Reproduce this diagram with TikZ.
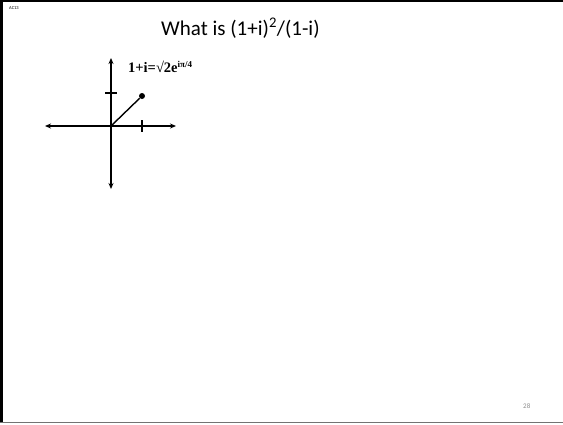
\documentclass[tikz,border=0pt]{standalone}
\usepackage{fontspec}
\setmainfont{Carlito}
\newfontfamily\labelfont{Liberation Serif}
\usetikzlibrary{arrows.meta}

\begin{document}
\begin{tikzpicture}[
  x=1pt, y=-1pt,
  axis/.style      = {line width=1.4pt, {Stealth[length=6pt,width=5pt]}-{Stealth[length=6pt,width=5pt]}},
  tick/.style      = {line width=1.1pt},
  ray/.style       = {line width=1.4pt},
  dot/.style       = {circle, fill, inner sep=0pt, minimum size=6pt},
  title/.style     = {anchor=base west, font=\fontsize{21}{24}\selectfont, inner sep=0pt},
  formula/.style   = {anchor=base west, font=\labelfont\bfseries\fontsize{14.5}{16}\selectfont, inner sep=0pt},
  tag/.style       = {anchor=base west, font=\fontsize{4.5}{5}\selectfont, inner sep=0pt},
  pagenum/.style   = {anchor=base west, font=\fontsize{7}{8}\selectfont, text=black!45, inner sep=0pt},
]
  \useasboundingbox (0,0) rectangle (563,424);

  % slide frame
  \draw[line width=2pt] (0,1) -- (563,1);
  \draw[line width=3pt] (1.5,0) -- (1.5,422);
  \draw[line width=1.2pt, black!55] (0,422.5) -- (563,422.5);

  \node[tag] (code) at (9,9) {AC13};
  \node[title] (head) at (161,35) {What is (1+i)\textsuperscript{2}/(1-i)};
  \node[pagenum] (page) at (523,408) {28};

  % complex plane
  \coordinate (O) at (111,126);
  \coordinate (xl) at (45,126);
  \coordinate (xr) at (176,126);
  \coordinate (yt) at (111,58);
  \coordinate (yb) at (111,189);
  \draw[axis] (xl) -- (xr);
  \draw[axis] (yt) -- (yb);

  \coordinate (ty1) at (105,93);
  \coordinate (ty2) at (117,93);
  \coordinate (tx1) at (142,120);
  \coordinate (tx2) at (142,132);
  \draw[tick] (ty1) -- (ty2);
  \draw[tick] (tx1) -- (tx2);

  \node[dot] (z) at (142,96) {};
  \draw[ray] (O) -- (z);

  \node[formula] (lbl) at (128,72) {1+i=√2e\raisebox{4.5pt}{\fontsize{9}{10}\selectfont iπ/4}};
\end{tikzpicture}
\end{document}
